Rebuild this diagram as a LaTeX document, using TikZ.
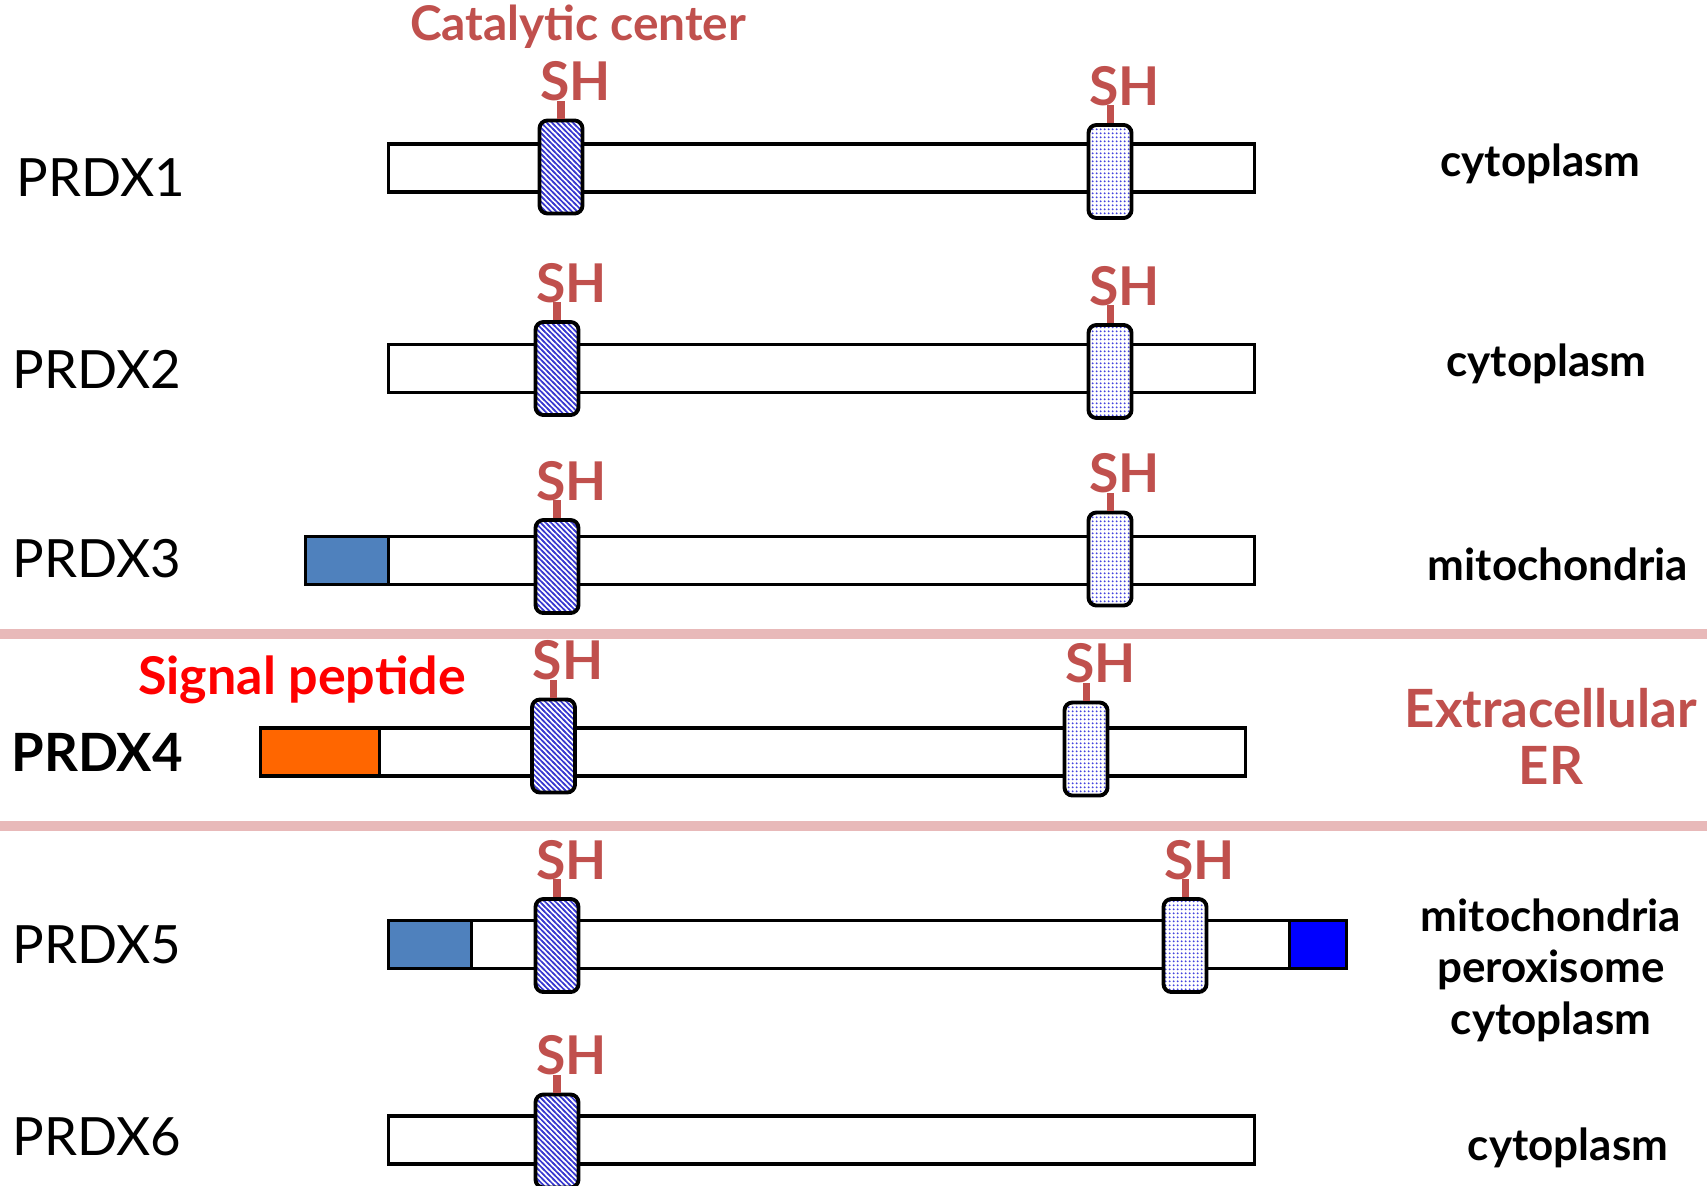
\documentclass[tikz,border=0pt]{standalone}
\usepackage{fontspec}
\setmainfont{Lato}
\usetikzlibrary{patterns.meta}

\definecolor{shred}{HTML}{C0504D}
\definecolor{sepline}{HTML}{E8B9B9}
\definecolor{mito}{HTML}{4F81BD}
\definecolor{signal}{HTML}{FF6600}
\definecolor{perox}{HTML}{0000FF}
\definecolor{hatchblue}{HTML}{3A3AD0}
\definecolor{dotblue}{HTML}{4545DD}

% diagonal hatching for the catalytic cysteine
\tikzdeclarepattern{
  name=cyshatch, type=uncolored,
  bounding box={(-0.5pt,-0.5pt) and (2.0pt,2.0pt)},
  tile size={(1.5pt,1.5pt)},
  code={\draw[line width=0.45pt] (-0.5pt,2.0pt) -- (2.0pt,-0.5pt);}
}
% dot grid for the resolving cysteine
\tikzdeclarepattern{
  name=cysdots, type=uncolored,
  bounding box={(0pt,0pt) and (1.15pt,1.15pt)},
  tile size={(1.15pt,1.15pt)},
  code={\fill (0.575pt,0.575pt) circle (0.36pt);}
}

\begin{document}
\begin{tikzpicture}[x=0.01cm, y=-0.01cm,
  bar/.style={draw=black, line width=0.9pt, fill=white, inner sep=0pt,
    minimum height=0.48cm, anchor=west},
  cysbox/.style={draw=black, line width=1.1pt, rounded corners=0.08cm,
    inner sep=0pt, minimum width=0.43cm, minimum height=0.93cm,
    preaction={fill=white}},
  cysA/.style={cysbox, pattern={cyshatch}, pattern color=hatchblue},
  cysB/.style={cysbox, pattern={cysdots}, pattern color=dotblue},
  shlabel/.style={text=shred, font=\bfseries\fontsize{15.2}{17}\selectfont,
    inner sep=0pt, anchor=base west},
  stem/.style={draw=shred, line width=2pt},
  protname/.style={font=\fontsize{15}{18}\selectfont, inner sep=0pt, anchor=base west},
  loc/.style={font=\bfseries\fontsize{12.5}{15}\selectfont, inner sep=0pt, anchor=base},
  sep/.style={draw=sepline, line width=2.7pt}
]
\useasboundingbox (0,0) rectangle (1707,1185);
\fill[white] (0,0) rectangle (1707,1185);

% separators around PRDX4
\coordinate (sepAl) at (0,634);   \coordinate (sepAr) at (1707,634);
\coordinate (sepBl) at (0,826);   \coordinate (sepBr) at (1707,826);
\draw[sep] (sepAl) -- (sepAr);
\draw[sep] (sepBl) -- (sepBr);

% ---- PRDX1
\node[bar, minimum width=8.655cm] (bar1) at (386.5,168) {};
\node[cysA] (b11) at (561,167) {};
\node[cysB] (b12) at (1110,171.5) {};
% ---- PRDX2
\node[bar, minimum width=8.655cm] (bar2) at (386.5,368.5) {};
\node[cysA] (b21) at (557,368.5) {};
\node[cysB] (b22) at (1110,371.5) {};
% ---- PRDX3
\node[bar, minimum width=9.483cm] (bar3) at (303.7,560.6) {};
\node[bar, minimum width=0.828cm, fill=mito] (mts3) at (303.7,560.6) {};
\node[cysA] (b31) at (557,566.5) {};
\node[cysB] (b32) at (1110,559) {};
% ---- PRDX4
\node[bar, minimum width=9.84cm] (bar4) at (259,752) {};
\node[bar, minimum width=1.188cm, fill=signal] (sig4) at (259,752) {};
\node[cysA] (b41) at (553.5,746) {};
\node[cysB] (b42) at (1086,749) {};
% ---- PRDX5
\node[bar, minimum width=9.015cm] (bar5) at (386.5,944.5) {};
\node[bar, minimum width=0.835cm, fill=mito] (mts5) at (386.5,944.5) {};
\node[bar, minimum width=0.566cm, fill=perox] (pts5) at (1288,944.5) {};
\node[cysA] (b51) at (557,945.5) {};
\node[cysB] (b52) at (1185,945.5) {};
% ---- PRDX6
\node[bar, minimum width=8.655cm] (bar6) at (386.5,1140) {};
\node[cysA] (b61) at (557,1141) {};

% SH labels with their stems
\foreach \b in {b11,b12,b21,b22,b31,b32,b41,b42,b51,b52,b61}{
  \node[shlabel] (sh-\b) at ([shift={(2,-18)}]\b.north west) {SH};
  \draw[stem] (\b.north) -- (\b.north |- sh-\b.base);
}

% protein names
\node[protname] (n1) at (16,196) {PRDX1};
\node[protname] (n2) at (12,388.5) {PRDX2};
\node[protname] (n3) at (12,577) {PRDX3};
\node[protname, font=\bfseries\fontsize{15}{18}\selectfont] (n4) at (11,771) {PRDX4};
\node[protname] (n5) at (12,963.5) {PRDX5};
\node[protname] (n6) at (12,1155) {PRDX6};

% localisation
\node[loc] (l1) at (1540.5,176) {cytoplasm};
\node[loc] (l2) at (1546.5,376.5) {cytoplasm};
\node[loc] (l3) at (1558,580) {mitochondria};
\node[loc, text=shred, font=\bfseries\fontsize{15}{18}\selectfont] (l4a) at (1551,727) {Extracellular};
\node[loc, text=shred, font=\bfseries\fontsize{15}{18}\selectfont] (l4b) at (1551,784) {ER};
\node[loc] (l5a) at (1551,931) {mitochondria};
\node[loc] (l5b) at (1551,982) {peroxisome};
\node[loc] (l5c) at (1551,1034) {cytoplasm};
\node[loc] (l6) at (1568,1160.5) {cytoplasm};

% annotations
\node[loc, text=shred, font=\bfseries\fontsize{13.6}{16}\selectfont] (cat) at (578,41) {Catalytic center};
\node[loc, text=red, font=\bfseries\fontsize{14.8}{18}\selectfont] (sigtxt) at (302,694.6) {Signal peptide};
\end{tikzpicture}
\end{document}
